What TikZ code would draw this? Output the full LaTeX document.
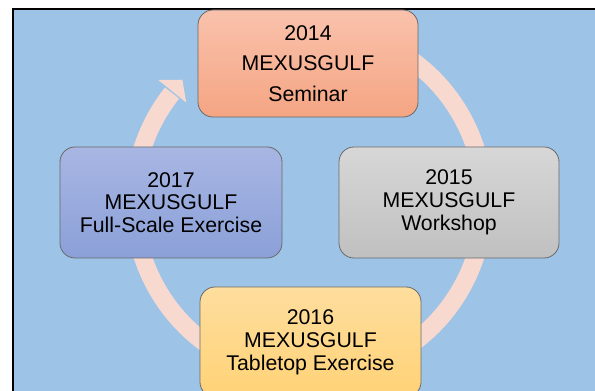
\documentclass[tikz,border=0pt]{standalone}
\usepackage{fontspec}
\setmainfont{Liberation Sans}
\definecolor{bgblue}{RGB}{157,195,230}
\definecolor{ringpink}{RGB}{248,217,207}
\definecolor{edgegray}{RGB}{105,105,105}
\begin{document}
\begin{tikzpicture}[x=1pt,y=1pt,
  stagebox/.style={draw=edgegray, line width=0.8pt, rounded corners=15pt,
    align=center, inner sep=0pt, font=\fontsize{21.3}{22.8}\selectfont},
  ringline/.style={draw=ringpink, line width=18pt},
]
\useasboundingbox (0,0) rectangle (595,391);
\fill[white] (0,0) rectangle (595,391);
\fill[bgblue] (13,0) rectangle (595,382);
\draw[line width=2pt] (13,0) -- (13,382) -- (595,382);

% cycle ring
\coordinate (C) at (309,189);
\draw[ringline] ([shift={(115:175)}]C) arc[start angle=115, end angle=-218.5, radius=175];
\fill[ringpink] ([shift={(141:158)}]C) -- ([shift={(136:176)}]C) -- ([shift={(141:194)}]C) -- cycle;

% stages
\node[stagebox, minimum width=220pt, minimum height=107pt,
  top color={rgb,255:red,249;green,194;blue,172}, bottom color={rgb,255:red,245;green,165;blue,131},
  font=\fontsize{21.3}{30.5}\selectfont]
  (seminar) at (308,327.5) {2014\\MEXUSGULF\\Seminar};
\node[stagebox, minimum width=220pt, minimum height=111pt,
  top color={rgb,255:red,215;green,215;blue,215}, bottom color={rgb,255:red,192;green,192;blue,192}]
  (workshop) at (449,188.5) {2015\\MEXUSGULF\\Workshop};
\node[stagebox, minimum width=221pt, minimum height=110pt,
  top color={rgb,255:red,254;green,222;blue,158}, bottom color={rgb,255:red,255;green,210;blue,118}]
  (tabletop) at (310.5,49) {2016\\MEXUSGULF\\Tabletop Exercise};
\node[stagebox, minimum width=222pt, minimum height=111pt,
  top color={rgb,255:red,168;green,182;blue,227}, bottom color={rgb,255:red,139;green,160;blue,216}]
  (fullscale) at (171,188.5) {2017\\MEXUSGULF\\Full-Scale Exercise};
\end{tikzpicture}
\end{document}
